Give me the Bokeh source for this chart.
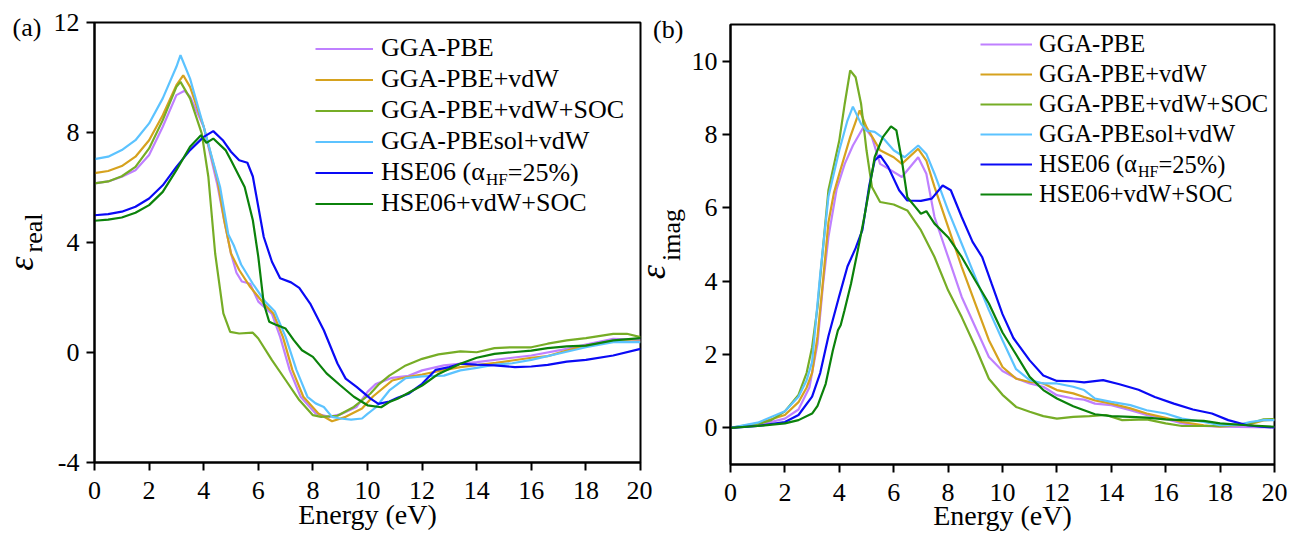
import math
from bokeh.plotting import figure
from bokeh.models import Range1d, FixedTicker, Legend, LegendItem, Label
from bokeh.layouts import row
from bokeh.core.properties import value
from bokeh.embed import file_html
from bokeh.resources import INLINE

FONT = "Liberation Serif"

# ---------------- labels / colours ----------------
series_labels = ["GGA-PBE", "GGA-PBE+vdW", "GGA-PBE+vdW+SOC", "GGA-PBEsol+vdW",
                 "HSE06 (\u03b1", "HSE06+vdW+SOC"]
series_colors = ["#bf80ff", "#d6a21e", "#76ad26", "#5cc3ff", "#0a0af5", "#0b820b"]

energy_ticks = [0, 2, 4, 6, 8, 10, 12, 14, 16, 18, 20]
real_ticks = [-4, 0, 4, 8, 12]
imag_ticks = [0, 2, 4, 6, 8, 10]

# ---------------- (a) real part ----------------
e_pbe_real = [0, 0.5, 1, 1.5, 2, 2.5, 3, 3.3, 3.5, 4, 4.5, 4.75, 4.9, 5.0, 5.2, 5.4, 5.7, 6.0, 6.5, 6.8,
              7.15, 7.55, 8.1, 8.6, 9.0, 9.6, 10.0, 10.3, 10.9, 11.5, 12.0, 12.8, 14.0, 15.3, 16.0, 17.3,
              18.0, 19.0, 20.0]
pbe_real = [6.15, 6.22, 6.39, 6.63, 7.18, 8.21, 9.36, 9.52, 9.30, 8.21, 6.10, 4.81, 4.08, 3.60, 2.90,
            2.58, 2.50, 1.85, 1.40, 0.57, -0.64, -1.61, -2.22, -2.34, -2.25, -1.98, -1.43, -1.15, -0.92,
            -0.85, -0.65, -0.47, -0.35, -0.19, -0.11, 0.13, 0.29, 0.50, 0.46]

e_vdw_real = [0, 0.5, 1, 1.5, 2, 2.5, 3, 3.25, 3.5, 4, 4.5, 4.75, 4.9, 5.0, 5.3, 5.7, 6.2, 6.55, 6.9,
              7.25, 7.65, 8.2, 8.7, 9.2, 9.8, 10.2, 10.9, 11.4, 12.0, 12.6, 13.4, 14.0, 14.7, 15.3, 16.0,
              16.6, 17.3, 18.0, 19.0, 20.0]
vdw_real = [6.52, 6.60, 6.78, 7.12, 7.72, 8.63, 9.72, 10.08, 9.66, 8.21, 6.30, 4.81, 4.08, 3.60, 3.00,
            2.39, 1.78, 1.42, 0.57, -0.64, -1.61, -2.22, -2.50, -2.34, -2.04, -1.60, -1.02, -0.90, -0.80,
            -0.68, -0.53, -0.46, -0.38, -0.29, -0.19, -0.13, 0.07, 0.25, 0.41, 0.40]

e_soc_real = [0, 0.5, 1, 1.5, 2, 2.5, 3, 3.15, 3.5, 3.93, 4.17, 4.42, 4.72, 4.97, 5.3, 5.8, 6.0, 6.5,
              7.0, 7.5, 8.0, 8.3, 8.9, 9.5, 10.1, 10.4, 10.8, 11.4, 12.0, 12.6, 13.4, 14.0, 14.65, 15.3,
              16.0, 16.6, 17.3, 18.0, 19.0, 19.5, 20.0]
soc_real = [6.15, 6.22, 6.41, 6.75, 7.42, 8.45, 9.66, 9.84, 9.24, 7.96, 6.39, 3.60, 1.42, 0.75, 0.69,
            0.72, 0.51, -0.28, -1.00, -1.73, -2.28, -2.34, -2.30, -1.98, -1.50, -1.17, -0.84, -0.47,
            -0.23, -0.07, 0.04, 0.01, 0.16, 0.19, 0.19, 0.32, 0.44, 0.52, 0.68, 0.68, 0.56]

e_sol_real = [0, 0.5, 1, 1.5, 2, 2.5, 3, 3.15, 3.5, 4, 4.3, 4.6, 4.9, 5.1, 5.37, 5.8, 6.25, 6.6, 7.0,
              7.4, 7.8, 8.1, 8.4, 8.7, 9.0, 9.4, 9.8, 10.0, 10.3, 10.8, 11.4, 12.0, 12.8, 13.4, 14.0,
              14.6, 15.3, 16.0, 17.1, 18.0, 19.0, 20.0]
sol_real = [7.03, 7.12, 7.36, 7.72, 8.33, 9.24, 10.39, 10.81, 9.96, 8.21, 7.10, 6.02, 4.30, 3.90, 3.20,
            2.50, 1.85, 1.50, 0.57, -0.64, -1.61, -1.85, -1.98, -2.34, -2.40, -2.44, -2.40, -2.23,
            -2.00, -1.38, -0.93, -0.87, -0.84, -0.65, -0.56, -0.45, -0.39, -0.27, -0.02, 0.19, 0.38, 0.38]

e_hse_real = [0, 0.5, 1, 1.5, 2, 2.5, 3, 3.5, 4, 4.35, 4.7, 5.0, 5.3, 5.6, 5.8, 6.0, 6.2, 6.5, 6.8,
              7.2, 7.5, 7.9, 8.4, 8.9, 9.2, 9.6, 10.1, 10.4, 10.8, 11.1, 11.5, 12.0, 12.5, 13.0, 13.4,
              14.0, 14.65, 15.4, 16.0, 16.6, 17.3, 18.0, 19.0, 20.0]
hse_real = [4.99, 5.03, 5.12, 5.30, 5.60, 6.08, 6.75, 7.36, 7.84, 8.05, 7.72, 7.30, 6.99, 6.90, 6.40,
            5.30, 4.20, 3.30, 2.70, 2.55, 2.35, 1.78, 0.81, -0.40, -0.95, -1.25, -1.67, -1.87, -1.78,
            -1.65, -1.50, -1.14, -0.63, -0.53, -0.41, -0.44, -0.47, -0.53, -0.51, -0.45, -0.33, -0.27,
            -0.11, 0.13]

e_hsoc_real = [0, 0.5, 1, 1.5, 2, 2.5, 3, 3.5, 3.9, 4.1, 4.35, 4.8, 5.0, 5.5, 5.8, 6.0, 6.2, 6.4, 6.6,
               7.0, 7.3, 7.6, 8.0, 8.5, 9.0, 9.5, 10.0, 10.5, 10.8, 11.1, 12.0, 12.6, 13.4, 14.0, 14.65,
               15.3, 16.0, 16.6, 17.3, 18.0, 19.0, 20.0]
hsoc_real = [4.79, 4.83, 4.91, 5.08, 5.36, 5.84, 6.63, 7.48, 7.90, 7.62, 7.78, 7.36, 6.99, 6.02, 4.81,
             3.48, 1.78, 1.12, 1.03, 0.87, 0.45, 0.08, -0.16, -0.76, -1.19, -1.61, -1.92, -1.99, -1.80,
             -1.68, -1.20, -0.78, -0.41, -0.19, -0.05, 0.01, 0.07, 0.16, 0.22, 0.25, 0.44, 0.52]

# ---------------- (b) imaginary part ----------------
e_pbe_imag = [0, 1, 2, 2.5, 2.9, 3.2, 3.4, 3.6, 3.9, 4.2, 4.5, 4.9, 5.2, 5.5, 5.8, 6.3, 6.9, 7.2, 7.5,
              8.0, 8.5, 9.0, 9.5, 10.0, 10.5, 11.0, 11.5, 12.0, 12.6, 13.0, 13.4, 14.0, 14.7, 15.3, 16.0,
              16.6, 17.4, 18.0, 20.0]
pbe_imag = [0, 0.07, 0.25, 0.50, 1.10, 2.30, 3.90, 5.20, 6.50, 7.20, 7.70, 8.22, 7.93, 7.20, 7.07, 6.84,
            7.38, 6.93, 5.75, 4.66, 3.57, 2.75, 1.93, 1.55, 1.35, 1.21, 1.12, 0.89, 0.80, 0.77, 0.66,
            0.62, 0.48, 0.35, 0.24, 0.12, 0.05, 0.03, 0.01]

e_vdw_imag = [0, 1, 2, 2.5, 2.8, 3.0, 3.2, 3.4, 3.6, 3.8, 4.0, 4.4, 4.75, 5.0, 5.5, 6.0, 6.3, 6.9, 7.2,
              7.5, 8.0, 8.5, 9.0, 9.5, 10.0, 10.5, 11.0, 11.5, 12.0, 12.6, 13.0, 13.4, 14.0, 14.7, 15.3,
              16.0, 16.6, 17.4, 18.0, 19.1, 19.6, 20.0]
vdw_imag = [0, 0.12, 0.35, 0.70, 1.10, 1.50, 2.50, 4.00, 5.60, 6.40, 6.93, 7.93, 8.66, 8.20, 7.57, 7.38,
            7.20, 7.61, 7.29, 6.57, 5.48, 4.39, 3.39, 2.39, 1.66, 1.34, 1.25, 1.21, 1.03, 0.94, 0.84,
            0.75, 0.66, 0.53, 0.39, 0.27, 0.16, 0.07, 0.03, 0.10, 0.20, 0.22]

e_soc_imag = [0, 1, 1.5, 2, 2.5, 2.8, 3.0, 3.2, 3.4, 3.6, 4.0, 4.2, 4.4, 4.6, 4.8, 5.0, 5.2, 5.5, 6.0,
              6.5, 7.0, 7.5, 8.0, 8.5, 9.0, 9.5, 10.0, 10.5, 11.0, 11.5, 12.0, 12.6, 13.2, 13.8, 14.4,
              15.3, 16.0, 16.6, 18.0, 19.1, 19.6, 20.0]
soc_imag = [0, 0.10, 0.21, 0.45, 0.90, 1.50, 2.20, 3.30, 4.90, 6.48, 7.84, 8.84, 9.75, 9.56, 8.84, 7.57,
            6.57, 6.16, 6.09, 5.93, 5.39, 4.66, 3.75, 3.02, 2.21, 1.34, 0.90, 0.57, 0.44, 0.32, 0.25,
            0.30, 0.32, 0.35, 0.21, 0.23, 0.12, 0.05, 0.05, 0.12, 0.23, 0.24]

e_sol_imag = [0, 1, 2, 2.5, 2.8, 3.0, 3.15, 3.3, 3.6, 4.0, 4.3, 4.5, 4.8, 5.0, 5.3, 5.6, 6.0, 6.4, 6.9,
              7.2, 7.5, 8.0, 8.5, 9.0, 9.5, 10.0, 10.5, 11.0, 11.5, 12.0, 12.6, 13.0, 13.4, 14.0, 14.7,
              15.3, 16.0, 16.6, 17.4, 18.0, 18.6, 19.1, 19.6, 20.0]
sol_imag = [0, 0.14, 0.45, 0.85, 1.30, 1.80, 3.00, 4.20, 6.30, 7.57, 8.38, 8.76, 8.29, 8.11, 8.07, 7.91,
            7.57, 7.38, 7.70, 7.47, 6.93, 5.93, 5.02, 4.11, 3.21, 2.39, 1.60, 1.30, 1.21, 1.21, 1.12,
            1.03, 0.80, 0.71, 0.62, 0.48, 0.39, 0.25, 0.16, 0.07, 0.07, 0.16, 0.21, 0.21]

e_hse_imag = [0, 1, 2, 2.5, 3.0, 3.3, 3.6, 4.0, 4.3, 4.6, 4.85, 5.1, 5.3, 5.5, 5.8, 6.2, 6.5, 7.0, 7.4,
              7.8, 8.1, 8.5, 8.9, 9.25, 9.6, 10.0, 10.4, 11.0, 11.5, 12.0, 12.6, 13.0, 13.7, 14.3, 15.0,
              15.6, 16.3, 17.0, 17.7, 18.3, 19.0, 19.5, 20.0]
hse_imag = [0, 0.05, 0.16, 0.35, 0.85, 1.50, 2.50, 3.60, 4.40, 4.90, 5.40, 6.60, 7.29, 7.43, 7.11, 6.48,
            6.20, 6.19, 6.25, 6.61, 6.48, 5.75, 5.07, 4.66, 3.93, 3.10, 2.45, 1.84, 1.43, 1.28, 1.27,
            1.24, 1.30, 1.19, 1.04, 0.84, 0.66, 0.50, 0.39, 0.21, 0.07, 0.03, 0.01]

e_hsoc_imag = [0, 1, 2, 2.5, 3.0, 3.2, 3.5, 3.76, 3.95, 4.05, 4.19, 4.43, 4.68, 4.92, 5.1, 5.3, 5.6, 5.9,
               6.1, 6.3, 6.5, 6.8, 7.0, 7.2, 7.5, 8.0, 8.5, 9.0, 9.5, 10.0, 10.5, 11.0, 11.5, 12.0, 12.6,
               13.0, 13.4, 14.0, 14.7, 15.3, 16.0, 16.6, 17.4, 18.0, 19.0, 20.0]
hsoc_imag = [0, 0.05, 0.12, 0.21, 0.39, 0.60, 1.20, 2.10, 2.66, 2.80, 3.20, 3.93, 4.84, 5.75, 6.50, 7.38,
             7.93, 8.22, 8.11, 7.29, 6.29, 6.02, 5.84, 5.91, 5.57, 5.20, 4.66, 4.02, 3.39, 2.60, 2.00,
             1.39, 1.03, 0.80, 0.59, 0.48, 0.37, 0.32, 0.30, 0.28, 0.23, 0.21, 0.19, 0.12, 0.07, 0.03]

real_series = [(e_pbe_real, pbe_real), (e_vdw_real, vdw_real), (e_soc_real, soc_real),
               (e_sol_real, sol_real), (e_hse_real, hse_real), (e_hsoc_real, hsoc_real)]
imag_series = [(e_pbe_imag, pbe_imag), (e_vdw_imag, vdw_imag), (e_soc_imag, soc_imag),
               (e_sol_imag, sol_imag), (e_hse_imag, hse_imag), (e_hsoc_imag, hsoc_imag)]

H = 535
MID = 0.3375   # em distance between the alphabetic baseline and the em-box middle


def add_text(p, x, y, text, size, **kw):
    p.add_layout(Label(x=x, y=y, x_units="screen", y_units="screen", text=text,
                       text_font=FONT, text_font_size=f"{size}px", text_color="black", **kw))


def label_strip(width, tag, tag_x, tag_base, eps_base, eps_start, sub, sub_base, sub_start,
                overlap=0, eps_size=36, sub_size=26):
    """Narrow transparent figure holding the panel tag and the rotated y label.
    Positions are given as strip-x of the baselines and page-y of the text starts."""
    s = figure(width=width, height=H, x_range=Range1d(0, 1), y_range=Range1d(0, 1),
               output_backend="svg", toolbar_location=None, title=None,
               x_axis_type=None, y_axis_type=None, frame_align=False,
               min_border=0, min_border_left=0, min_border_right=0,
               min_border_top=0, min_border_bottom=0,
               margin=(0, 0, 0, -overlap))
    s.outline_line_color = None
    s.grid.visible = False
    s.background_fill_alpha = 0
    s.border_fill_alpha = 0
    # panel tag, anchored at the middle of its em box
    add_text(s, tag_x, H - (tag_base - MID * 26), tag, 26, text_baseline="middle", text_align="left")
    # rotated epsilon and its subscript, anchored at their centres
    eps_len = 0.44 * eps_size
    sub_len = {"real": 1.5, "imag": 2.0}[sub] * sub_size
    add_text(s, eps_base - MID * eps_size, H - (eps_start - eps_len / 2), "\u03b5", eps_size,
             text_font_style="italic", angle=math.pi / 2, text_baseline="middle", text_align="center")
    add_text(s, sub_base - MID * sub_size, H - (sub_start - sub_len / 2), sub, sub_size,
             angle=math.pi / 2, text_baseline="middle", text_align="center")
    return s


def build_panel(series, ylim, yticks, geom, minus_override):
    (width, bl, br, bt, bb, ystand, xlab_stand, leg_x, leg_y, glyph_w, standoff, pitch,
     lfont, sfont, soff) = geom
    p = figure(width=width, height=H, x_range=Range1d(0, 20), y_range=Range1d(*ylim),
               output_backend="svg", toolbar_location=None, title=None, frame_align=False,
               min_border_left=bl, min_border_right=br, min_border_top=bt, min_border_bottom=bb)
    p.background_fill_color = "white"
    p.border_fill_color = "white"
    p.outline_line_color = "black"
    p.outline_line_width = 2
    p.outline_line_alpha = 1.0
    p.grid.visible = False
    p.xaxis.ticker = FixedTicker(ticks=energy_ticks)
    p.yaxis.ticker = FixedTicker(ticks=yticks)
    for ax in (p.xaxis[0], p.yaxis[0]):
        ax.axis_line_width = 2
        ax.axis_line_color = "black"
        ax.major_tick_line_width = 2
        ax.major_tick_line_color = "black"
        ax.major_tick_out = 8
        ax.major_tick_in = 0
        ax.minor_tick_line_color = None
        ax.major_label_text_font = FONT
        ax.major_label_text_font_size = "26px"
        ax.major_label_text_color = "black"
    p.xaxis.major_label_standoff = 11
    p.yaxis.major_label_standoff = ystand
    if minus_override:
        p.yaxis.major_label_overrides = {t: str(t) for t in yticks if t < 0}
    p.xaxis.axis_label = "Energy (eV)"
    p.xaxis.axis_label_text_font = FONT
    p.xaxis.axis_label_text_font_size = "28px"
    p.xaxis.axis_label_text_font_style = "normal"
    p.xaxis.axis_label_text_color = "black"
    p.xaxis.axis_label_standoff = xlab_stand

    renderers = []
    for (e, y), c in zip(series, series_colors):
        renderers.append(p.line(e, y, line_color=c, line_width=2.2))

    items = [LegendItem(label=value(lbl), renderers=[r]) for lbl, r in zip(series_labels, renderers)]
    leg = Legend(items=items, location=(leg_x, leg_y), glyph_width=glyph_w, glyph_height=pitch,
                 label_height=pitch, label_standoff=standoff, spacing=0, padding=0, margin=0,
                 border_line_color=None, background_fill_alpha=0,
                 label_text_font=FONT, label_text_font_size=f"{lfont}px", label_text_color="black")
    p.add_layout(leg)

    # subscript part of the HSE06 legend entry
    row_c = leg_y + 1.5 * pitch
    tx0 = leg_x + glyph_w + standoff
    w_main = 4.022 * lfont
    add_text(p, tx0 + w_main, row_c - soff, "HF", sfont, text_baseline="middle")
    add_text(p, tx0 + w_main + 1.278 * sfont, row_c, "=25%)", lfont, text_baseline="middle")
    return p


# page layout: strip A (0-50) | panel a (50-652) | strip B (632-688, overlapping panel a's
# empty right margin by 20 px) | panel b (688-1291)
strip_a = label_strip(50, "(a)", 12, 36, 32.5, 271, "real", 42, 252)
strip_b = label_strip(56, "(b)", 20.5, 38, 33, 279.5, "imag", 47.5, 260.5, overlap=20)

# (width, border l, r, t, b, ytick standoff, xlabel standoff, legend x, legend y, glyph w,
#  standoff, pitch, legend font, subscript font, subscript offset)
geom_a = (602, 42, 12, 22, 73, 7, -3, 221, 243.2, 58, 8, 31, 26, 17, 7)
geom_b = (603, 40, 17, 24, 71, 5, -4, 250, 254.7, 52, 7, 30, 24.5, 16, 6.6)

pa = build_panel(real_series, (-4, 12), real_ticks, geom_a, True)
pb = build_panel(imag_series, (-1, 11), imag_ticks, geom_b, False)

layout = row(strip_a, pa, strip_b, pb)
open("out.html", "w").write(file_html(layout, INLINE))
